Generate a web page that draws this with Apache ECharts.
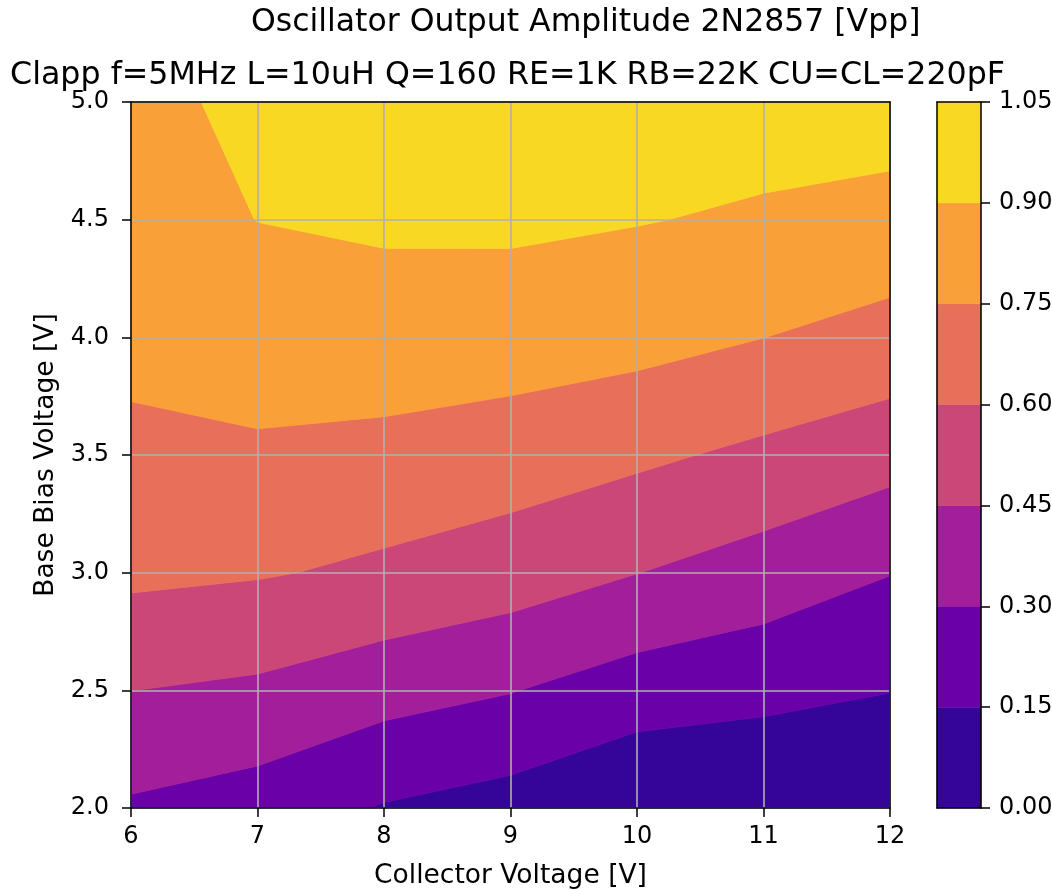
<!DOCTYPE html>
<html><head><meta charset="utf-8">
<script src="https://cdn.jsdelivr.net/npm/echarts@6/dist/echarts.min.js"></script>
<style>html,body{margin:0;padding:0;background:#fff}#c{width:1052px;height:890px}</style>
</head><body><div id="c"></div>
<script>
// Grid coordinates
const collectorV = [6, 7, 8, 9, 10, 11, 12];
const baseV = [2.0, 2.5, 3.0, 3.5, 4.0, 4.5, 5.0];
// Output amplitude [Vpp], one row per base bias voltage (values at collectorV)
const ampAtBase2_0 = [0.280, 0.231, 0.140, 0.090, 0.007, 0.012, 0.020];
const ampAtBase2_5 = [0.451, 0.424, 0.356, 0.306, 0.228, 0.190, 0.153];
const ampAtBase3_0 = [0.631, 0.611, 0.576, 0.524, 0.452, 0.385, 0.304];
const ampAtBase3_5 = [0.700, 0.720, 0.691, 0.673, 0.627, 0.569, 0.504];
const ampAtBase4_0 = [0.810, 0.855, 0.872, 0.826, 0.799, 0.751, 0.703];
const ampAtBase4_5 = [0.860, 0.901, 0.909, 0.924, 0.906, 0.882, 0.841];
const ampAtBase5_0 = [0.870, 0.924, 0.960, 0.970, 0.960, 0.962, 0.983];
// Contour levels and their colours
const levels = [0.00, 0.15, 0.30, 0.45, 0.60, 0.75, 0.90, 1.05];
const levelColors = ['#350498', '#6a00a8', '#a31e9a', '#cb4778', '#e8705b', '#f9a038', '#f9d824'];
const titleMain = 'Oscillator Output Amplitude 2N2857 [Vpp]';
const titleSub = 'Clapp f=5MHz L=10uH Q=160 RE=1K RB=22K CU=CL=220pF';

const Z = [ampAtBase2_0, ampAtBase2_5, ampAtBase3_0, ampAtBase3_5, ampAtBase4_0, ampAtBase4_5, ampAtBase5_0];

const cells = [];
for (let j = 0; j < baseV.length - 1; j++)
  for (let i = 0; i < collectorV.length - 1; i++)
    cells.push([collectorV[i], baseV[j], i, j]);

const bands = [];
for (let k = 0; k < levels.length - 1; k++) bands.push([0, levels[k], levels[k + 1], k]);

function clip(poly, thr, keepAbove) {
  const out = [];
  const n = poly.length;
  for (let k = 0; k < n; k++) {
    const a = poly[k], b = poly[(k + 1) % n];
    const ina = keepAbove ? a[2] >= thr : a[2] < thr;
    const inb = keepAbove ? b[2] >= thr : b[2] < thr;
    if (ina) out.push(a);
    if (ina !== inb) {
      const t = (thr - a[2]) / (b[2] - a[2]);
      out.push([a[0] + (b[0] - a[0]) * t, a[1] + (b[1] - a[1]) * t, thr]);
    }
  }
  return out;
}

function renderCell(params, api) {
  const i = api.value(2), j = api.value(3);
  const quad = [
    [collectorV[i], baseV[j], Z[j][i]],
    [collectorV[i + 1], baseV[j], Z[j][i + 1]],
    [collectorV[i + 1], baseV[j + 1], Z[j + 1][i + 1]],
    [collectorV[i], baseV[j + 1], Z[j + 1][i]]
  ];
  const children = [];
  for (let k = 0; k < levels.length - 1; k++) {
    let p = clip(quad, levels[k], true);
    if (p.length < 3) continue;
    p = clip(p, levels[k + 1], false);
    if (p.length < 3) continue;
    children.push({
      type: 'polygon',
      shape: { points: p.map(q => api.coord([q[0], q[1]])) },
      style: { fill: levelColors[k], stroke: levelColors[k], lineWidth: 0.8 }
    });
  }
  return { type: 'group', children };
}

function renderBand(params, api) {
  const p0 = api.coord([0, api.value(1)]);
  const p1 = api.coord([1, api.value(2)]);
  return {
    type: 'rect',
    shape: { x: p0[0], y: p1[1], width: p1[0] - p0[0], height: p0[1] - p1[1] },
    style: { fill: levelColors[api.value(3)], stroke: levelColors[api.value(3)], lineWidth: 0.5 }
  };
}

const FONT = 'DejaVu Sans';
const lineOnly = (extra) => Object.assign({
  type: 'value', z: 10,
  axisLine: { show: true, onZero: false, lineStyle: { color: '#000', width: 1.5 } },
  axisTick: { show: false }, axisLabel: { show: false }, splitLine: { show: false }
}, extra);

const option = {
  animation: false,
  backgroundColor: '#fff',
  title: [
    { text: titleMain, left: 251, top: 7, padding: 0,
      textStyle: { fontFamily: FONT, fontSize: 31.5, fontWeight: 'normal', color: '#000' } },
    { text: titleSub, left: 10, top: 60, padding: 0,
      textStyle: { fontFamily: FONT, fontSize: 31.7, fontWeight: 'normal', color: '#000' } }
  ],
  grid: [
    { left: 131, right: 162, top: 102, bottom: 82, containLabel: false, outerBoundsMode: 'none' },
    { left: 937, width: 44, top: 102, bottom: 82, containLabel: false, outerBoundsMode: 'none' }
  ],
  xAxis: [
    { type: 'value', gridIndex: 0, min: 6, max: 12, interval: 1, z: 10,
      name: 'Collector Voltage [V]', nameLocation: 'middle', nameGap: 55,
      nameTextStyle: { fontFamily: FONT, fontSize: 26.5, color: '#000' },
      axisLine: { show: true, onZero: false, lineStyle: { color: '#000', width: 1.5 } },
      axisTick: { show: true, length: 9, lineStyle: { color: '#000', width: 1.5 } },
      axisLabel: { margin: 17, fontFamily: FONT, fontSize: 24, color: '#000' },
      splitLine: { show: true, lineStyle: { color: '#b0b0b0', width: 1.6 } } },
    lineOnly({ gridIndex: 0, position: 'top', min: 6, max: 12 }),
    lineOnly({ gridIndex: 1, position: 'bottom', min: 0, max: 1 }),
    lineOnly({ gridIndex: 1, position: 'top', min: 0, max: 1 })
  ],
  yAxis: [
    { type: 'value', gridIndex: 0, min: 2, max: 5, interval: 0.5, z: 10,
      name: 'Base Bias Voltage [V]', nameLocation: 'middle', nameGap: 65,
      nameTextStyle: { fontFamily: FONT, fontSize: 26.5, color: '#000' },
      axisLine: { show: true, onZero: false, lineStyle: { color: '#000', width: 1.5 } },
      axisTick: { show: true, length: 9, lineStyle: { color: '#000', width: 1.5 } },
      axisLabel: { margin: 22, fontFamily: FONT, fontSize: 24, color: '#000',
        formatter: v => v.toFixed(1) },
      splitLine: { show: true, lineStyle: { color: '#b0b0b0', width: 1.6 } } },
    lineOnly({ gridIndex: 0, position: 'right', min: 2, max: 5 }),
    { type: 'value', gridIndex: 1, position: 'right', min: 0, max: 1.05, interval: 0.15, z: 10,
      axisLine: { show: true, onZero: false, lineStyle: { color: '#000', width: 1.5 } },
      axisTick: { show: true, length: 9, lineStyle: { color: '#000', width: 1.5 } },
      axisLabel: { margin: 18, fontFamily: FONT, fontSize: 24, color: '#000',
        formatter: v => v.toFixed(2) },
      splitLine: { show: false } },
    lineOnly({ gridIndex: 1, position: 'left', min: 0, max: 1.05 })
  ],
  series: [
    { type: 'custom', xAxisIndex: 0, yAxisIndex: 0, z: 2, clip: true,
      renderItem: renderCell, data: cells, encode: { x: 0, y: 1 } },
    { type: 'custom', xAxisIndex: 2, yAxisIndex: 2, z: 2,
      renderItem: renderBand, data: bands, encode: { x: 0, y: [1, 2] } }
  ]
};

const chart = echarts.init(document.getElementById('c'), null, { renderer: 'canvas' });
chart.setOption(option);
</script>
</body></html>
